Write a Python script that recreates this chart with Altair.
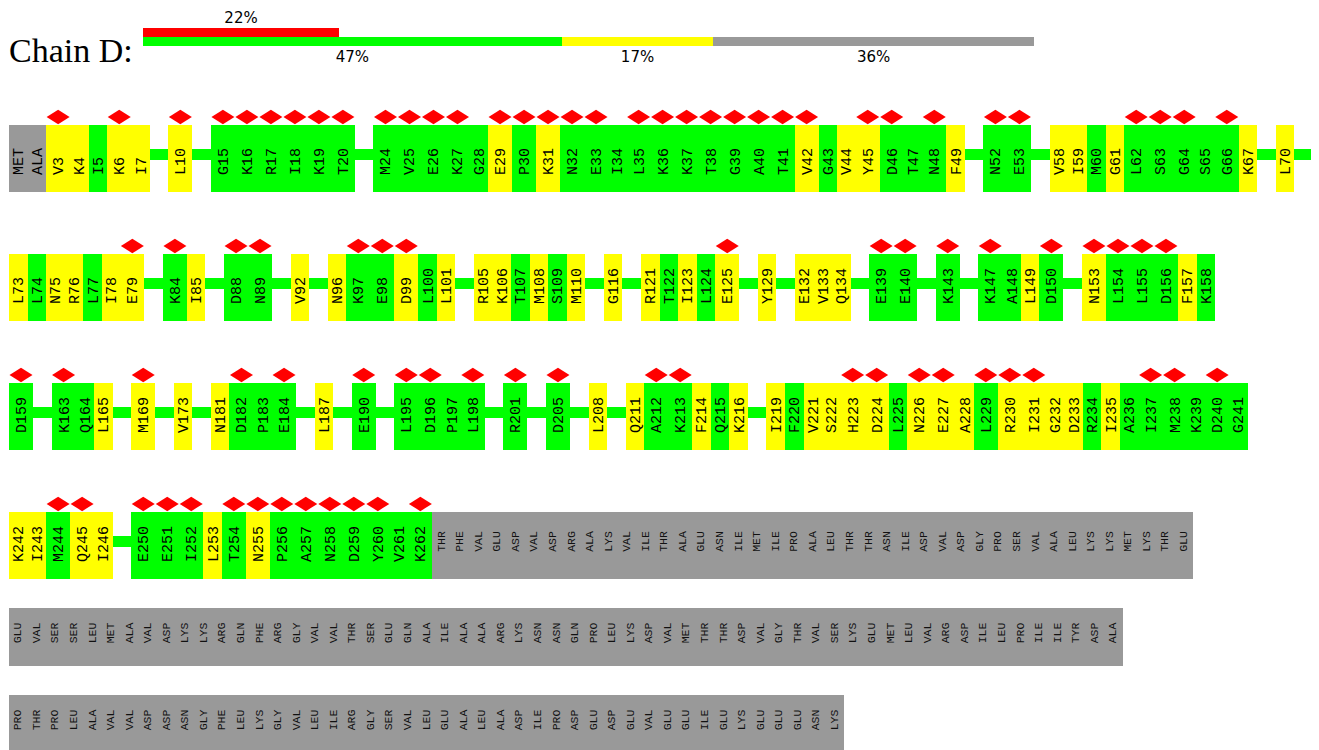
import re
import altair as alt
import pandas as pd

# ---------------- data ----------------
chain_name = "Chain D:"
quality_pct = [47, 17, 36]          # green / yellow / grey share of the chain
quality_cls = ["g", "y", "x"]
rsrz_pct = 22                       # share of residues with RSRZ > 2

row1 = ["MET", "ALA", "V3", "K4", "I5", "K6", "I7", "L10", "G15", "K16", "R17", "I18", "K19", "T20",
        "M24", "V25", "E26", "K27", "G28", "E29", "P30", "K31", "N32", "E33", "I34", "L35", "K36", "K37",
        "T38", "G39", "A40", "T41", "V42", "G43", "V44", "Y45", "D46", "T47", "N48", "F49", "N52", "E53",
        "V58", "I59", "M60", "G61", "L62", "S63", "G64", "S65", "G66", "K67", "L70"]
row2 = ["L73", "L74", "N75", "R76", "L77", "I78", "E79", "K84", "I85", "D88", "N89", "V92", "N96", "K97",
        "E98", "D99", "L100", "L101", "R105", "K106", "T107", "M108", "S109", "M110", "G116", "R121",
        "T122", "I123", "L124", "E125", "Y129", "E132", "V133", "Q134", "E139", "E140", "K143", "K147",
        "A148", "L149", "D150", "N153", "L154", "L155", "D156", "F157", "K158"]
row3 = ["D159", "K163", "Q164", "L165", "M169", "V173", "N181", "D182", "P183", "E184", "L187", "E190",
        "L195", "D196", "P197", "L198", "R201", "D205", "L208", "Q211", "A212", "K213", "F214", "Q215",
        "K216", "I219", "F220", "V221", "S222", "H223", "D224", "L225", "N226", "E227", "A228", "L229",
        "R230", "I231", "G232", "D233", "R234", "I235", "A236", "I237", "M238", "K239", "D240", "G241"]
row4_model = ["K242", "I243", "M244", "Q245", "I246", "E250", "E251", "I252", "L253", "T254", "N255",
              "P256", "A257", "N258", "D259", "Y260", "V261", "K262"]
row4_tail = ["THR", "PHE", "VAL", "GLU", "ASP", "VAL", "ASP", "ARG", "ALA", "LYS", "VAL", "ILE", "THR",
             "ALA", "GLU", "ASN", "ILE", "MET", "ILE", "PRO", "ALA", "LEU", "THR", "THR", "ASN", "ILE",
             "ASP", "VAL", "ASP", "GLY", "PRO", "SER", "VAL", "ALA", "LEU", "LYS", "LYS", "MET", "LYS",
             "THR", "GLU"]
row5 = ["GLU", "VAL", "SER", "SER", "LEU", "MET", "ALA", "VAL", "ASP", "LYS", "LYS", "ARG", "GLN", "PHE",
        "ARG", "GLY", "VAL", "VAL", "THR", "SER", "GLU", "GLN", "ALA", "ILE", "ALA", "ALA", "ARG", "LYS",
        "ASN", "ASN", "GLN", "PRO", "LEU", "LYS", "ASP", "VAL", "MET", "THR", "THR", "ASP", "VAL", "GLY",
        "THR", "VAL", "SER", "LYS", "GLU", "MET", "LEU", "VAL", "ARG", "ASP", "ILE", "LEU", "PRO", "ILE",
        "ILE", "TYR", "ASP", "ALA"]
row6 = ["PRO", "THR", "PRO", "LEU", "ALA", "VAL", "VAL", "ASP", "ASP", "ASN", "GLY", "PHE", "LEU", "LYS",
        "GLY", "VAL", "LEU", "ILE", "ARG", "GLY", "SER", "VAL", "LEU", "GLU", "ALA", "LEU", "ALA", "ASP",
        "ILE", "PRO", "ASP", "GLU", "ASP", "GLU", "VAL", "GLU", "GLU", "ILE", "GLU", "LYS", "GLU", "GLU",
        "GLU", "ASN", "LYS"]

one_outlier = ["V3", "K4", "K6", "I7", "L10", "E29", "K31", "V42", "V44", "Y45", "F49", "V58", "I59",
               "G61", "K67", "L70", "L73", "N75", "R76", "I78", "E79", "I85", "V92", "N96", "D99", "L101",
               "R105", "K106", "M108", "M110", "G116", "R121", "I123", "E125", "Y129", "E132", "V133",
               "Q134", "L149", "N153", "F157", "L165", "M169", "V173", "N181", "L187", "L208", "Q211",
               "F214", "K216", "I219", "V221", "S222", "H223", "D224", "N226", "E227", "A228", "R230",
               "I231", "G232", "D233", "I235", "K242", "I243", "Q245", "I246", "L253", "N255"]
rsrz_outliers = ["V3", "K6", "L10", "G15", "K16", "R17", "I18", "K19", "T20", "M24", "V25", "E26", "K27",
                 "E29", "P30", "K31", "N32", "E33", "L35", "K36", "K37", "T38", "G39", "A40", "T41", "V42",
                 "Y45", "D46", "N48", "N52", "E53", "L62", "S63", "G64", "G66", "E79", "K84", "D88", "N89",
                 "K97", "E98", "D99", "E125", "E139", "E140", "K143", "K147", "D150", "N153", "L154",
                 "L155", "D156", "D159", "K163", "M169", "D182", "E184", "E190", "L195", "D196", "L198",
                 "R201", "D205", "A212", "K213", "H223", "D224", "N226", "E227", "L229", "R230", "I231",
                 "I237", "M238", "D240", "M244", "Q245", "E250", "E251", "I252", "T254", "N255", "P256",
                 "A257", "N258", "D259", "Y260", "K262"]

rows = [row1, row2, row3, row4_model + row4_tail, row5, row6]

# ---------------- layout (page pixels) ----------------
W, H = 1303, 742
X0 = 9
NARROW = 18.56
WIDE = 24.0
BOX_H = 67
GRAY_H = 58
FIRST_TOP = 125
GAP_DIAMOND = 62
GAP_PLAIN = 29
BAR_X0, BAR_W = 143, 891

yellow = set(one_outlier)
rsrz = set(rsrz_outliers)

flat = [lab for r in rows for lab in r]
nums = []
n = 0
for lab in flat:
    d = re.sub(r"\D", "", lab)
    n = int(d) if d else n + 1
    nums.append(n)
last_modelled = max(nums[i] for i, lab in enumerate(flat) if re.search(r"\d", lab))

boxes, conns, dias, labs, tails = [], [], [], [], []
idx = 0
top = FIRST_TOP
prev_h = None
for r_i, row in enumerate(rows):
    modelled = any(re.search(r"\d", lab) for lab in row)
    if r_i > 0:
        top = top + prev_h + (GAP_DIAMOND if modelled else GAP_PLAIN)
    h = BOX_H if modelled else GRAY_H
    x = X0
    for lab in row:
        num = nums[idx]
        observed = bool(re.search(r"\d", lab))
        cls = "y" if lab in yellow else ("g" if observed else "x")
        w = WIDE if lab in rsrz else NARROW
        boxes.append(dict(x=round(x), x2=round(x + w), y=top, y2=top + h, cls=cls))
        if lab in rsrz:
            dias.append(dict(x=x + w / 2, y=top - 8))
        if num > last_modelled:
            tails.append(dict(x=x + w / 2, y=top + h / 2 - 4, t=lab))
        else:
            labs.append(dict(x=x + w / 2, y=top + 50, t=lab))
        x += w
        if idx + 1 < len(nums) and nums[idx + 1] != num + 1:
            conns.append(dict(x=round(x) - 1, x2=round(x + NARROW) + 1, y=top + 24, y2=top + 35, cls="g"))
            x += NARROW
        idx += 1
    prev_h = h

# header
hbars, htexts = [], []
rx2 = BAR_X0 + BAR_W * rsrz_pct / 100
hbars.append(dict(x=BAR_X0, x2=round(rx2), y=28, y2=37, cls="r"))
htexts.append(dict(x=(BAR_X0 + rx2) / 2, y=18, t=f"{rsrz_pct}%"))
cx = BAR_X0
for p, c in zip(quality_pct, quality_cls):
    x2 = cx + BAR_W * p / 100
    hbars.append(dict(x=round(cx), x2=round(x2), y=37, y2=46, cls=c))
    htexts.append(dict(x=(cx + x2) / 2, y=57, t=f"{p}%"))
    cx = x2

# ---------------- chart ----------------
xs = alt.Scale(domain=[8, 8 + W], nice=False, zero=False)
ys = alt.Scale(domain=[8, 8 + H], reverse=True, nice=False, zero=False)
col = alt.Color("cls:N", legend=None,
                scale=alt.Scale(domain=["g", "y", "x", "r"],
                                range=["#00ff00", "#ffff00", "#999999", "#ff0000"]))


def rect_layer(rows_):
    return alt.Chart(pd.DataFrame(rows_)).mark_rect(strokeWidth=0, clip=True).encode(
        x=alt.X("x:Q", scale=xs, axis=None), x2="x2:Q",
        y=alt.Y("y:Q", scale=ys, axis=None), y2="y2:Q", color=col)


conn_layer = rect_layer(conns)
box_layer = rect_layer(boxes)
hbar_layer = rect_layer(hbars)

dia_layer = alt.Chart(pd.DataFrame(dias)).mark_point(
    shape="M-1,0L0,-0.62L1,0L0,0.62Z", size=529, filled=True, opacity=1,
    color="#ff0000", strokeWidth=0).encode(
    x=alt.X("x:Q", scale=xs, axis=None), y=alt.Y("y:Q", scale=ys, axis=None))

lab_layer = alt.Chart(pd.DataFrame(labs)).mark_text(
    angle=270, align="left", baseline="middle", font="Liberation Mono", fontSize=15,
    color="#000000").encode(
    x=alt.X("x:Q", scale=xs, axis=None), y=alt.Y("y:Q", scale=ys, axis=None), text="t:N")

tail_layer = alt.Chart(pd.DataFrame(tails)).mark_text(
    angle=270, align="center", baseline="middle", font="Liberation Mono", fontSize=11.5,
    color="#111111", clip=True).encode(
    x=alt.X("x:Q", scale=xs, axis=None), y=alt.Y("y:Q", scale=ys, axis=None), text="t:N")

htext_layer = alt.Chart(pd.DataFrame(htexts)).mark_text(
    align="center", baseline="middle", font="DejaVu Sans", fontSize=15, color="#000000").encode(
    x=alt.X("x:Q", scale=xs, axis=None), y=alt.Y("y:Q", scale=ys, axis=None), text="t:N")

title_layer = alt.Chart(pd.DataFrame([dict(x=9, y=62, t=chain_name)])).mark_text(
    align="left", baseline="alphabetic", font="Liberation Serif", fontSize=34,
    color="#000000").encode(
    x=alt.X("x:Q", scale=xs, axis=None), y=alt.Y("y:Q", scale=ys, axis=None), text="t:N")

chart = alt.layer(conn_layer, box_layer, dia_layer, lab_layer, tail_layer,
                  hbar_layer, htext_layer, title_layer).properties(
    width=W, height=H, padding=0,
    autosize=alt.AutoSizeParams(type="none"),
).configure_view(strokeWidth=0)

chart.save("out.html", embed_options={"renderer": "svg", "actions": False})
